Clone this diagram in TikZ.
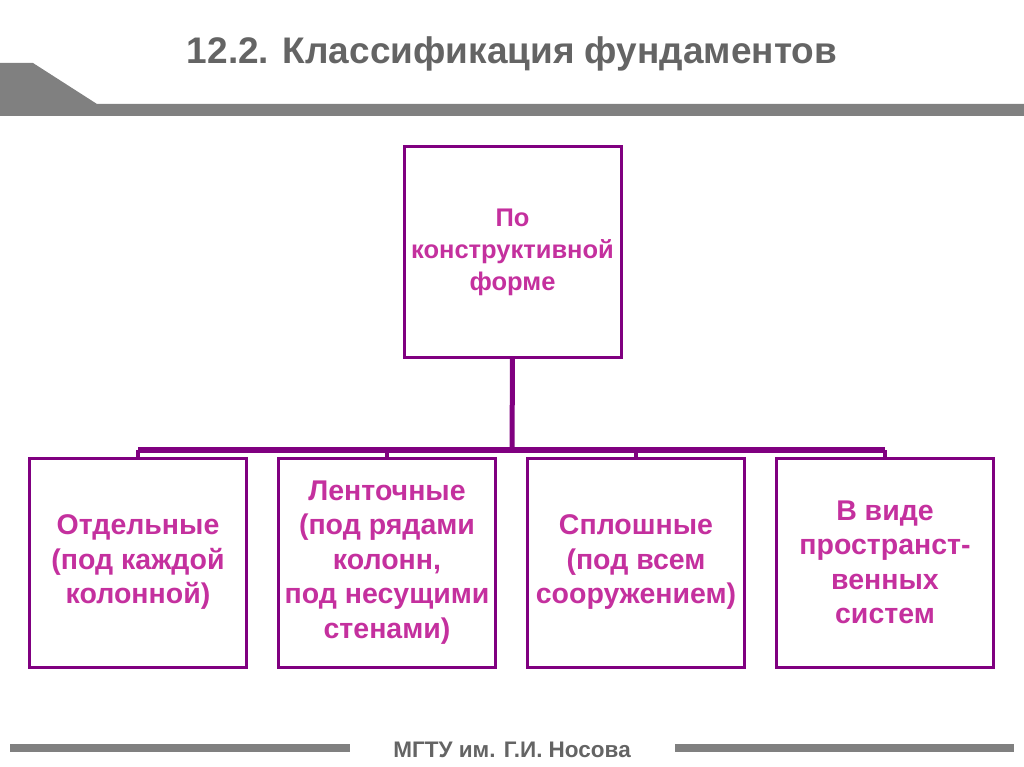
\documentclass[tikz,border=0pt]{standalone}
\usepackage{fontspec}
\setmainfont{Liberation Sans}
\usetikzlibrary{positioning}
\definecolor{framepurple}{RGB}{128,0,128}
\definecolor{textpink}{RGB}{196,48,158}
\definecolor{bargray}{RGB}{128,128,128}
\definecolor{titlegray}{RGB}{100,100,100}
\tikzset{
        block/.style = {draw=framepurple, rectangle, line width=3pt,
            minimum width=217pt,
            minimum height=209pt,
            inner sep=2pt, outer sep=0pt, align=center, text=textpink,
            font=\bfseries\fontsize{28.5}{34.5}\selectfont},
        rootblock/.style = {block, minimum height=210pt,
            font=\bfseries\fontsize{25.5}{32}\selectfont},
        link/.style = {draw=framepurple, line width=5pt},
        tick/.style = {draw=framepurple, line width=4pt},
        bar/.style = {draw=bargray, line width=8pt},
    }

\begin{document}
\begin{tikzpicture}[x=1pt,y=-1pt]
    \useasboundingbox (0,0) rectangle (1024,767);

    % header
    \fill[bargray] (0,63) -- (33,63) -- (97,104) -- (1024,104) -- (1024,116) -- (0,116) -- cycle;
    \node[text=titlegray, font=\bfseries\fontsize{37}{37}\selectfont] (title) at (512,54)
        {12.2. Классификация фундаментов};

    % root
    \node[rootblock] (root) at (512.5,252) {По\\конструктивной\\форме};

    % kinds
    \node[block] (b1) at (138,562.5) {Отдельные\\(под каждой\\колонной)};
    \node[block, right=32pt of b1] (b2) {Ленточные\\(под рядами\\колонн,\\под несущими\\стенами)};
    \node[block, right=32pt of b2] (b3) {Сплошные\\(под всем\\сооружением)};
    \node[block, right=32pt of b3] (b4) {В виде\\пространст-\\венных\\систем};

    % links
    \coordinate (hub) at (512,450);
    \draw[link] (root.south) -- (hub);
    \draw[link, line width=6pt] (hub -| b1.north) -- (hub -| b4.north);
    \foreach \k in {b1,b2,b3,b4}
        \draw[tick] (hub -| \k.north) -- (\k.north);

    % footer
    \draw[bar] (10,748) -- (350,748);
    \draw[bar] (675,748) -- (1014,748);
    \node[text=titlegray, font=\bfseries\fontsize{22.5}{22.5}\selectfont] (footer) at (512,750)
        {МГТУ им. Г.И. Носова};
\end{tikzpicture}
\end{document}
